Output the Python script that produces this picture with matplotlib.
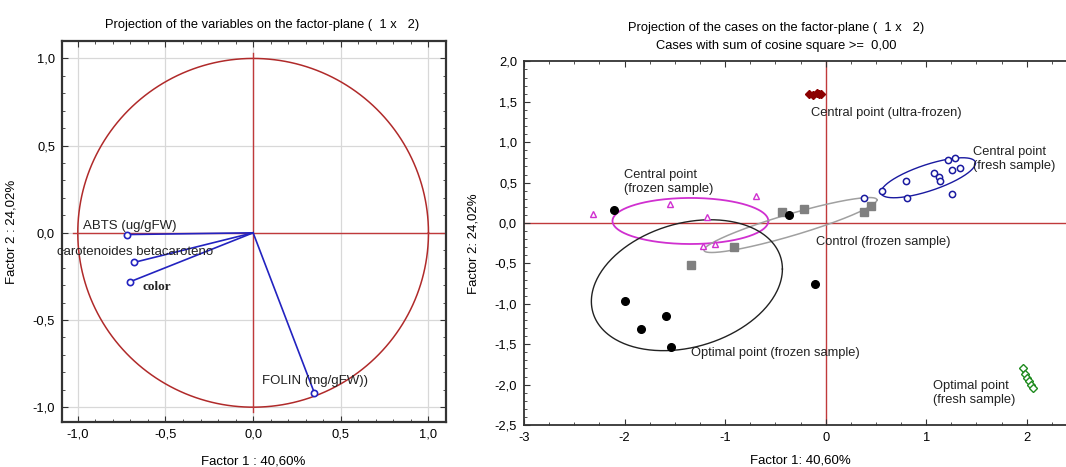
import numpy as np
import matplotlib
matplotlib.use("Agg")
import matplotlib.pyplot as plt
from matplotlib.ticker import FixedLocator, AutoMinorLocator, FuncFormatter

plt.rcParams["font.family"] = ["Liberation Sans", "DejaVu Sans"]
plt.rcParams["font.size"] = 9.3

# ---------------- variable loadings (factor 1, factor 2) ----------------
var_names = ["ABTS (ug/gFW)", "carotenoides betacaroteno", "color", "FOLIN (mg/gFW))"]
var_f1 = [-0.72, -0.68, -0.70, 0.35]
var_f2 = [-0.01, -0.17, -0.28, -0.92]
var_label_x = [-0.97, -1.12, -0.63, 0.05]
var_label_y = [0.04, -0.11, -0.31, -0.85]

# ---------------- case scores (factor 1, factor 2) ----------------
fresh_central_x = [0.56, 0.80, 0.81, 1.08, 1.13, 1.14, 1.22, 1.29, 1.26, 1.34, 1.26, 0.38]
fresh_central_y = [0.40, 0.52, 0.31, 0.62, 0.57, 0.52, 0.78, 0.80, 0.66, 0.68, 0.36, 0.31]

frozen_central_x = [-2.31, -1.55, -0.69, -1.18, -1.22, -1.10]
frozen_central_y = [0.11, 0.24, 0.33, 0.08, -0.29, -0.26]

control_x = [-0.91, -1.34, -0.43, -0.22, 0.45, 0.38]
control_y = [-0.30, -0.52, 0.13, 0.17, 0.21, 0.14]

frozen_optimal_x = [-2.10, -0.36, -2.00, -1.84, -1.59, -1.54, -0.11]
frozen_optimal_y = [0.16, 0.10, -0.97, -1.31, -1.15, -1.54, -0.75]

ultra_x = [-0.17, -0.13, -0.09, -0.07, -0.05]
ultra_y = [1.60, 1.59, 1.61, 1.60, 1.60]

fresh_optimal_x = [1.96, 1.98, 2.00, 2.02, 2.04, 2.06]
fresh_optimal_y = [-1.80, -1.87, -1.92, -1.96, -2.00, -2.04]

# confidence ellipses: centre and two conjugate semi-diameters (data units)
ell_fresh_central = dict(c=(1.02, 0.56), a=(0.47, 0.18), b=(0.0, 0.17))
ell_frozen_central = dict(c=(-1.345, 0.025), a=(0.775, 0.0), b=(0.0, 0.285))
ell_control = dict(c=(-0.35, -0.025), a=(0.86, 0.31), b=(0.0, 0.14))
ell_frozen_optimal = dict(c=(-1.38, -0.77), a=(0.95, 0.20), b=(0.0, 0.785))
ell_ultra = dict(c=(-0.11, 1.60), a=(0.07, 0.0), b=(0.0, 0.015))
ell_fresh_optimal = dict(c=(2.01, -1.92), a=(0.055, -0.13), b=(0.02, 0.0))

group_labels = [
    ("Central point (ultra-frozen)", -0.15, 1.36),
    ("Central point\n(fresh sample)", 1.47, 0.79),
    ("Central point\n(frozen sample)", -2.01, 0.51),
    ("Control (frozen sample)", -0.10, -0.24),
    ("Optimal point (frozen sample)", -1.34, -1.605),
    ("Optimal point\n(fresh sample)", 1.07, -2.10),
]

RED = "#c0393b"
CIRCLE = "#b02a2a"
BLUE = "#2323c0"


def comma(v, pos=None):
    return (f"{v:.1f}").replace(".", ",")


def int_fmt(v, pos=None):
    return f"{int(round(v))}"


def ellipse(ax, e, color, lw=1.0):
    t = np.linspace(0, 2 * np.pi, 300)
    cx, cy = e["c"]
    ax_, ay_ = e["a"]
    bx, by = e["b"]
    ax.plot(cx + ax_ * np.cos(t) + bx * np.sin(t),
            cy + ay_ * np.cos(t) + by * np.sin(t), color=color, lw=lw, zorder=2)


def style_axes(ax, lw):
    for s in ax.spines.values():
        s.set_color("#333333")
        s.set_linewidth(lw)
    ax.tick_params(which="both", direction="in", top=True, right=True,
                   color="#333333", labelsize=9.3, pad=5)
    ax.tick_params(which="major", length=4)
    ax.tick_params(which="minor", length=2)


fig = plt.figure(figsize=(10.66, 4.67), dpi=100)

# ---------------- left: variables on the factor plane ----------------
ax1 = fig.add_axes([62 / 1066, 1 - 422 / 467, 384 / 1066, 381 / 467])
ax1.set_xlim(-1.09, 1.10)
ax1.set_ylim(-1.085, 1.10)
ticks = [-1.0, -0.5, 0.0, 0.5, 1.0]
ax1.xaxis.set_major_locator(FixedLocator(ticks))
ax1.yaxis.set_major_locator(FixedLocator(ticks))
ax1.xaxis.set_minor_locator(AutoMinorLocator(5))
ax1.yaxis.set_minor_locator(AutoMinorLocator(5))
ax1.xaxis.set_major_formatter(FuncFormatter(comma))
ax1.yaxis.set_major_formatter(FuncFormatter(comma))
ax1.grid(True, which="major", color="#d8d8d8", lw=0.9, zorder=0)
style_axes(ax1, 1.6)

th = np.linspace(0, 2 * np.pi, 400)
ax1.plot(np.cos(th), np.sin(th), color=CIRCLE, lw=1.1, zorder=2)
ax1.plot([-1.03, 1.10], [0, 0], color=RED, lw=1.0, zorder=2)
ax1.plot([0, 0], [-1.03, 1.03], color=RED, lw=1.0, zorder=2)

for x, y in zip(var_f1, var_f2):
    ax1.plot([0, x], [0, y], color=BLUE, lw=1.2, zorder=3)
ax1.plot(var_f1, var_f2, ls="none", marker="o", ms=4.5, mfc="white",
         mec=BLUE, mew=1.2, zorder=4)

for name, lx, ly in zip(var_names, var_label_x, var_label_y):
    if name == "color":
        ax1.text(lx, ly, name, family="Liberation Serif", weight="bold",
                 fontsize=9.5, va="center", ha="left", color="#222222", zorder=5)
    else:
        ax1.text(lx, ly, name, fontsize=9.5, va="center", ha="left",
                 color="#222222", zorder=5)

ax1.set_xlabel("Factor 1 : 40,60%", fontsize=9.5)
ax1.set_ylabel("Factor 2 : 24,02%", fontsize=9.5)
ax1.xaxis.set_label_coords(0.497, -0.088)
ax1.yaxis.set_label_coords(-0.117, 0.5)
fig.text(262.5 / 1066, 1 - 25 / 467,
         "Projection of the variables on the factor-plane (  1 x   2)",
         ha="center", va="center", fontsize=9.3)

# ---------------- right: cases on the factor plane ----------------
ax2 = fig.add_axes([524 / 1066, 1 - 425 / 467, 552 / 1066, 363.6 / 467])
ax2.set_xlim(-3.0, 2.49)
ax2.set_ylim(-2.5, 2.0)
ax2.xaxis.set_major_locator(FixedLocator([-3, -2, -1, 0, 1, 2]))
ax2.yaxis.set_major_locator(FixedLocator(np.arange(-2.5, 2.01, 0.5)))
ax2.xaxis.set_minor_locator(AutoMinorLocator(4))
ax2.yaxis.set_minor_locator(AutoMinorLocator(5))
ax2.xaxis.set_major_formatter(FuncFormatter(int_fmt))
ax2.yaxis.set_major_formatter(FuncFormatter(comma))
style_axes(ax2, 1.3)
ax2.spines["right"].set_visible(False)

ax2.axhline(0, color=RED, lw=1.0, zorder=1)
ax2.axvline(0, color=RED, lw=1.0, zorder=1)

ellipse(ax2, ell_fresh_central, "#1a1aa0")
ellipse(ax2, ell_frozen_central, "#d030d0", lw=1.3)
ellipse(ax2, ell_control, "#a0a0a0", lw=1.1)
ellipse(ax2, ell_frozen_optimal, "#222222")
ellipse(ax2, ell_ultra, "#8b0000")
ellipse(ax2, ell_fresh_optimal, "#1e8a1e")

ax2.plot(fresh_central_x, fresh_central_y, ls="none", marker="o", ms=4.5,
         mfc="white", mec="#1a1aa0", mew=1.1, zorder=4)
ax2.plot(frozen_central_x, frozen_central_y, ls="none", marker="^", ms=5,
         mfc="white", mec="#d030d0", mew=1.0, zorder=4)
ax2.plot(control_x, control_y, ls="none", marker="s", ms=6,
         mfc="#808080", mec="#808080", zorder=4)
ax2.plot(frozen_optimal_x, frozen_optimal_y, ls="none", marker="o", ms=5.5,
         mfc="black", mec="black", zorder=4)
ax2.plot(ultra_x, ultra_y, ls="none", marker="D", ms=4.5,
         mfc="#8b0000", mec="#8b0000", zorder=4)
ax2.plot(fresh_optimal_x, fresh_optimal_y, ls="none", marker="D", ms=4,
         mfc="white", mec="#1e8a1e", mew=1.0, zorder=4)

for text, lx, ly in group_labels:
    ax2.text(lx, ly, text, fontsize=9.3, ha="left", va="center",
             color="#222222", linespacing=1.25, zorder=5)

ax2.set_xlabel("Factor 1: 40,60%", fontsize=9.5)
ax2.set_ylabel("Factor 2: 24,02%", fontsize=9.5)
ax2.xaxis.set_label_coords(0.5, -0.082)
ax2.yaxis.set_label_coords(-0.0815, 0.5)
fig.text(776 / 1066, 1 - 28 / 467,
         "Projection of the cases on the factor-plane (  1 x   2)",
         ha="center", va="center", fontsize=9.3)
fig.text(776 / 1066, 1 - 46 / 467,
         "Cases with sum of cosine square >=  0,00",
         ha="center", va="center", fontsize=9.3)

fig.savefig("out.png", dpi=100)
